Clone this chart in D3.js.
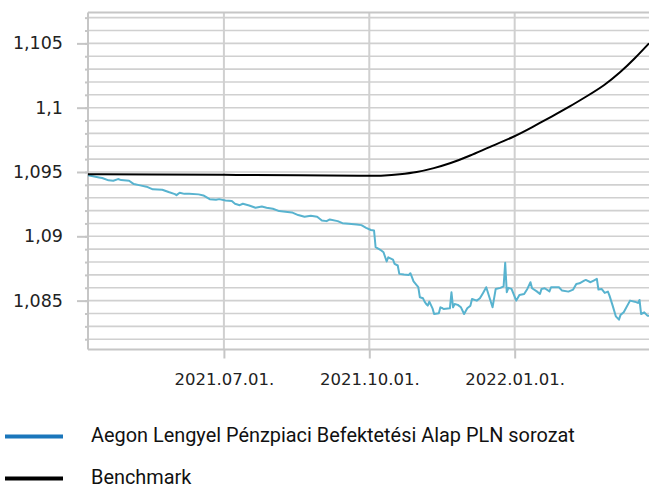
<!DOCTYPE html>
<html>
<head>
<meta charset="utf-8">
<script src="https://cdn.jsdelivr.net/npm/d3@7"></script>
<style>
  html, body { margin: 0; padding: 0; background: #ffffff; }
  svg { display: block; }
</style>
</head>
<body>
<svg id="chart" width="649" height="489"></svg>
<script>
// ---------------- DATA ----------------
const fundDates = [
"2021-04-06","2021-04-13","2021-04-15","2021-04-19","2021-04-22","2021-04-25","2021-04-27","2021-05-02","2021-05-05","2021-05-09",
"2021-05-13","2021-05-17","2021-05-23","2021-05-27","2021-05-31","2021-06-01","2021-06-03","2021-06-06","2021-06-09","2021-06-15",
"2021-06-18","2021-06-22","2021-06-26","2021-06-28","2021-07-02","2021-07-06","2021-07-08","2021-07-11","2021-07-13","2021-07-17",
"2021-07-21","2021-07-25","2021-07-28","2021-08-01","2021-08-05","2021-08-13","2021-08-17","2021-08-21","2021-08-25","2021-08-29",
"2021-09-01","2021-09-04","2021-09-06","2021-09-11","2021-09-14","2021-09-18","2021-09-23","2021-09-26","2021-09-29","2021-10-02",
"2021-10-04","2021-10-05","2021-10-08","2021-10-10","2021-10-12","2021-10-13","2021-10-16","2021-10-17","2021-10-19","2021-10-20",
"2021-10-23","2021-10-26","2021-10-27","2021-10-28","2021-10-29","2021-11-01","2021-11-02","2021-11-04","2021-11-05","2021-11-06",
"2021-11-07","2021-11-08","2021-11-10","2021-11-11","2021-11-14","2021-11-15","2021-11-16","2021-11-17","2021-11-21","2021-11-22",
"2021-11-23","2021-11-24","2021-11-26","2021-11-28","2021-11-30","2021-12-02","2021-12-04","2021-12-05","2021-12-08","2021-12-10",
"2021-12-12","2021-12-14","2021-12-16","2021-12-18","2021-12-20","2021-12-23","2021-12-25","2021-12-26","2021-12-27","2021-12-28",
"2021-12-30","2022-01-02","2022-01-04","2022-01-07","2022-01-09","2022-01-11","2022-01-12","2022-01-15","2022-01-17","2022-01-18",
"2022-01-20","2022-01-23","2022-01-24","2022-01-27","2022-01-29","2022-01-31","2022-02-04","2022-02-07","2022-02-09","2022-02-11",
"2022-02-14","2022-02-15","2022-02-18","2022-02-20","2022-02-22","2022-02-23","2022-02-25","2022-02-27","2022-03-01","2022-03-02",
"2022-03-04","2022-03-06","2022-03-08","2022-03-09","2022-03-11","2022-03-15","2022-03-18","2022-03-20","2022-03-21","2022-03-22",
"2022-03-24","2022-03-26","2022-03-27"
];
const fundValues = [
1.09474,1.09458,1.09453,1.09435,1.09432,1.09445,1.09437,1.09432,1.09406,1.09396,
1.09386,1.09365,1.09362,1.09344,1.09328,1.09320,1.09339,1.09330,1.09331,1.09326,
1.09318,1.09289,1.09284,1.09289,1.09279,1.09274,1.09253,1.09242,1.09253,1.09240,
1.09222,1.09232,1.09222,1.09214,1.09196,1.09186,1.09165,1.09152,1.09160,1.09152,
1.09123,1.09118,1.09131,1.09118,1.09102,1.09097,1.09092,1.09087,1.09066,1.09049,
1.09045,1.08915,1.08895,1.08876,1.08804,1.08837,1.08819,1.08786,1.08773,1.08708,
1.08703,1.08700,1.08713,1.08683,1.08650,1.08605,1.08526,1.08518,1.08492,1.08474,
1.08461,1.08492,1.08440,1.08396,1.08401,1.08448,1.08443,1.08435,1.08440,1.08565,
1.08448,1.08474,1.08467,1.08448,1.08396,1.08440,1.08461,1.08513,1.08500,1.08518,
1.08560,1.08604,1.08526,1.08448,1.08591,1.08599,1.08611,1.08794,1.08565,1.08599,
1.08591,1.08500,1.08544,1.08552,1.08591,1.08643,1.08596,1.08572,1.08552,1.08591,
1.08596,1.08572,1.08604,1.08604,1.08604,1.08578,1.08570,1.08586,1.08630,1.08635,
1.08656,1.08661,1.08643,1.08656,1.08669,1.08586,1.08591,1.08560,1.08570,1.08539,
1.08461,1.08378,1.08352,1.08389,1.08409,1.08500,1.08492,1.08482,1.08505,1.08396,
1.08409,1.08383,1.08383
];

const benchDates = [
"2021-04-06","2021-05-15","2021-07-01","2021-08-18","2021-09-30","2021-10-11","2021-10-20","2021-10-31","2021-11-11","2021-11-21",
"2021-12-04","2021-12-16","2021-12-31","2022-01-12","2022-01-25","2022-02-05","2022-02-15","2022-02-27","2022-03-09","2022-03-18",
"2022-03-27"
];
const benchValues = [
1.09482,1.09480,1.09478,1.09474,1.09470,1.09472,1.09482,1.09497,1.09530,1.09565,
1.09628,1.09694,1.09770,1.09848,1.09935,1.10010,1.10084,1.10175,1.10276,1.10382,
1.10500
];

const xDomainDates = ["2021-04-06", "2022-03-27"];
const yDomainValues = [1.0812, 1.1074];
const xTickDates = ["2021-07-01", "2021-10-01", "2022-01-01"];
const yTickValues = [1.085, 1.09, 1.095, 1.1, 1.105];
const yTickLabels = ["1,085", "1,09", "1,095", "1,1", "1,105"];
const yMinorTicks = [1.082,1.083,1.084,1.085,1.086,1.087,1.088,1.089,1.09,1.091,1.092,1.093,1.094,1.095,1.096,1.097,1.098,1.099,1.1,1.101,1.102,1.103,1.104,1.105,1.106,1.107];
const seriesNames = ["Aegon Lengyel Pénzpiaci Befektetési Alap PLN sorozat", "Benchmark"];

// ---------------- LAYOUT ----------------
const W = 649, H = 489;
const plot = { left: 88, right: 649, top: 12.5, bottom: 349.5 };
const gridColor = "#d0d0d0";
const axisColor = "#c6c6c6";
const fundColor = "#58b3cf";
const legendFundColor = "#1a76bb";
const benchColor = "#000000";

const parse = d3.timeParse("%Y-%m-%d");
const fmtX = d3.timeFormat("%Y.%m.%d.");

const svg = d3.select("#chart");

const x = d3.scaleTime()
  .domain(xDomainDates.map(parse))
  .range([plot.left, plot.right]);
const y = d3.scaleLinear()
  .domain(yDomainValues)
  .range([plot.bottom, plot.top]);

// clip
svg.append("defs").append("clipPath").attr("id", "clip")
  .append("rect")
  .attr("x", plot.left).attr("y", plot.top - 2)
  .attr("width", plot.right - plot.left).attr("height", plot.bottom - plot.top + 4);

// horizontal gridlines
svg.append("g")
  .selectAll("line")
  .data(yMinorTicks)
  .join("line")
  .attr("x1", plot.left).attr("x2", plot.right)
  .attr("y1", d => y(d)).attr("y2", d => y(d))
  .attr("stroke", gridColor).attr("stroke-width", 1.6);

// vertical gridlines
svg.append("g")
  .selectAll("line")
  .data(xTickDates.map(parse))
  .join("line")
  .attr("x1", d => x(d)).attr("x2", d => x(d))
  .attr("y1", plot.top).attr("y2", plot.bottom)
  .attr("stroke", gridColor).attr("stroke-width", 2);

// top border
svg.append("line")
  .attr("x1", plot.left).attr("x2", plot.right)
  .attr("y1", plot.top).attr("y2", plot.top)
  .attr("stroke", axisColor).attr("stroke-width", 2);

// Y axis minor ticks
const yMinorAxis = d3.axisLeft(y)
  .tickValues(yMinorTicks)
  .tickSize(3)
  .tickFormat("");
const gMinor = svg.append("g")
  .attr("transform", `translate(${plot.left},0)`)
  .call(yMinorAxis);
gMinor.select(".domain").remove();
gMinor.selectAll(".tick line").attr("stroke", axisColor).attr("stroke-width", 2);

// Y axis major
const yAxis = d3.axisLeft(y)
  .tickValues(yTickValues)
  .tickSize(11)
  .tickPadding(14)
  .tickFormat((d, i) => yTickLabels[i]);
const gY = svg.append("g")
  .attr("transform", `translate(${plot.left},0)`)
  .call(yAxis);
gY.select(".domain").attr("stroke", axisColor).attr("stroke-width", 2)
  .attr("d", `M0,${plot.top}V${plot.bottom}`);
gY.selectAll(".tick line").attr("stroke", axisColor).attr("stroke-width", 2);
gY.selectAll(".tick text")
  .attr("fill", "#222")
  .style("font-family", "'DejaVu Sans', sans-serif")
  .style("font-size", "17.5px");

// X axis
const xAxis = d3.axisBottom(x)
  .tickValues(xTickDates.map(parse))
  .tickSize(9)
  .tickPadding(15)
  .tickFormat(fmtX);
const gX = svg.append("g")
  .attr("transform", `translate(0,${plot.bottom})`)
  .call(xAxis);
gX.select(".domain").attr("stroke", axisColor).attr("stroke-width", 2)
  .attr("d", `M${plot.left},0H${plot.right}`);
gX.selectAll(".tick line").attr("stroke", axisColor).attr("stroke-width", 2);
gX.selectAll(".tick text")
  .attr("fill", "#222")
  .style("font-family", "'DejaVu Sans', sans-serif")
  .style("font-size", "16.5px");

// lines
const fundData = fundDates.map((d, i) => ({ date: parse(d), value: fundValues[i] }));
const benchData = benchDates.map((d, i) => ({ date: parse(d), value: benchValues[i] }));

const lineLinear = d3.line().x(d => x(d.date)).y(d => y(d.value));
const lineSmooth = d3.line().x(d => x(d.date)).y(d => y(d.value)).curve(d3.curveBasis);

const gLines = svg.append("g").attr("clip-path", "url(#clip)");
gLines.append("path")
  .datum(fundData)
  .attr("d", lineLinear)
  .attr("fill", "none")
  .attr("stroke", fundColor)
  .attr("stroke-width", 2)
  .attr("stroke-linejoin", "round");
gLines.append("path")
  .datum(benchData)
  .attr("d", lineSmooth)
  .attr("fill", "none")
  .attr("stroke", benchColor)
  .attr("stroke-width", 2);

// legend
const legendColors = [legendFundColor, benchColor];
const legendY = [436.5, 478.5];
const legend = svg.append("g");
seriesNames.forEach((name, i) => {
  legend.append("line")
    .attr("x1", 5).attr("x2", 63)
    .attr("y1", legendY[i]).attr("y2", legendY[i])
    .attr("stroke", legendColors[i])
    .attr("stroke-width", 4);
  legend.append("text")
    .attr("x", 91)
    .attr("y", legendY[i])
    .attr("dy", "0.27em")
    .attr("fill", "#111")
    .style("font-family", "Roboto, 'DejaVu Sans', sans-serif")
    .style("font-size", "19.9px")
    .text(name);
});
</script>
</body>
</html>
